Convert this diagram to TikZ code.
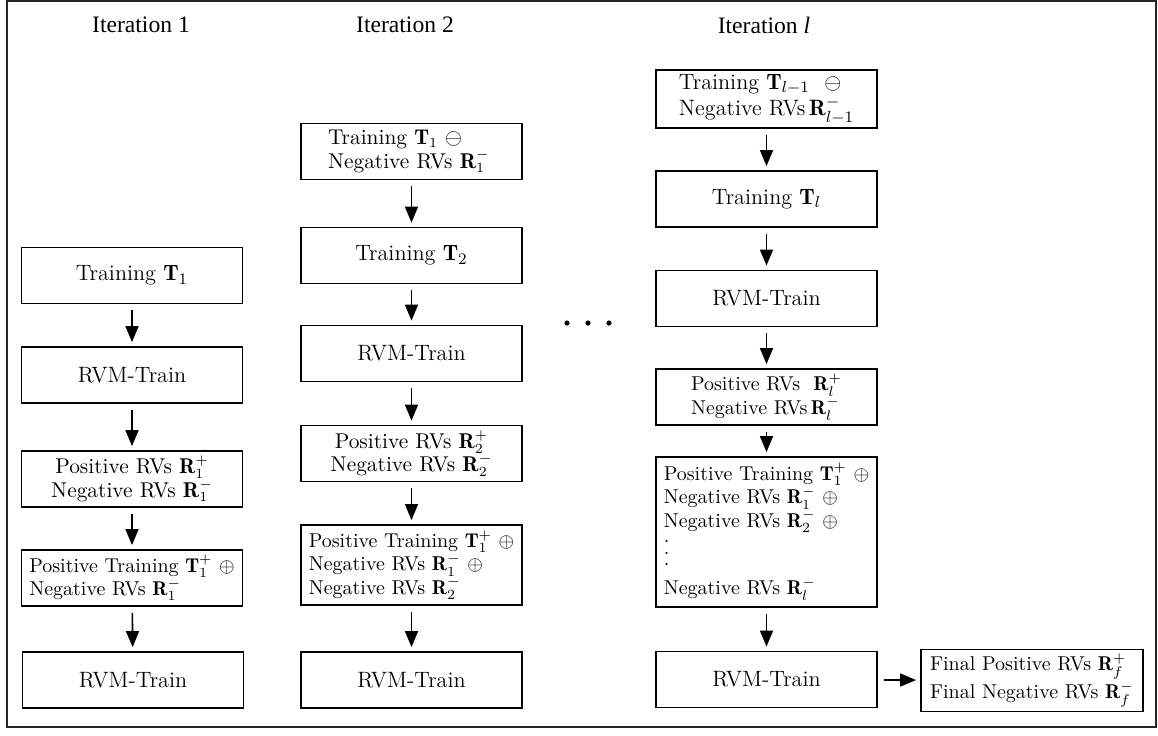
\documentclass[tikz,border=0pt]{standalone}
\usepackage{fontspec}
\newfontfamily\titlefont{Liberation Serif}
\usetikzlibrary{arrows.meta}
% a column of three dots with a wider pitch than \vdots
\newcommand\colvdots{\vbox{\baselineskip5.7pt\lineskiplimit0pt\hbox{.}\hbox{.}\hbox{.}}}
\begin{document}
\begin{tikzpicture}[x=0.5pt,y=-0.5pt,
  box/.style={draw=black, line width=0.9pt, minimum width=110.5pt,
    minimum height=28pt, inner sep=2pt},
  fA/.style={font=\fontsize{11.1}{11.7}\selectfont},
  fB/.style={font=\fontsize{10.7}{11.7}\selectfont},
  fC/.style={font=\fontsize{10}{11.7}\selectfont},
  midbox/.style={box, align=center},
  leftbox/.style={box, align=left},
  flow/.style={line width=0.8pt, -{Triangle[length=8pt,width=6.5pt]},
    shorten <=3pt, shorten >=2pt},
  heading/.style={font=\titlefont\fontsize{11.8}{14}\selectfont}]

\useasboundingbox (0,0) rectangle (1158,735);
\draw[line width=0.9pt, black!85] (7,1) rectangle (1156,727);

% column headings
\node[heading] (h1) at (141,25) {Iteration 1};
\node[heading] (h2) at (405,25) {Iteration 2};
\node[heading] (h3) at (764,25) {Iteration \textit{l}};

% iteration 1
\node[midbox, fA] (a1) at (132,275.5) {Training $\mathbf{T}_1$};
\node[midbox, fA] (a2) at (132,375) {RVM-Train};
\node[midbox, fB] (a3) at (132,479) {Positive RVs $\mathbf{R}_1^+$\\Negative RVs $\mathbf{R}_1^-$};
\node[leftbox, fC, inner xsep=0.5pt] (a4) at (132,578) {Positive Training $\mathbf{T}_1^+$ $\oplus$\\Negative RVs $\mathbf{R}_1^-$};
\node[midbox, fA] (a5) at (133,680) {RVM-Train};

% iteration 2
\node[leftbox, fB, inner xsep=13.5pt, text width=83.5pt] (b1) at (411.5,151.5) {Training $\mathbf{T}_1$ $\ominus$\\Negative RVs $\mathbf{R}_1^-$};
\node[midbox, fA] (b2) at (411.5,255.5) {Training $\mathbf{T}_2$};
\node[midbox, fA] (b3) at (411.5,353.5) {RVM-Train};
\node[midbox, fB] (b4) at (411.5,453.5) {Positive RVs $\mathbf{R}_2^+$\\Negative RVs $\mathbf{R}_2^-$};
\node[leftbox, fC, minimum height=40pt] (b5) at (411.5,565) {Positive Training $\mathbf{T}_1^+$ $\oplus$\\Negative RVs $\mathbf{R}_1^-$ $\oplus$\\Negative RVs $\mathbf{R}_2^-$};
\node[midbox, fA] (b6) at (411.5,680) {RVM-Train};

% gap between iteration 2 and iteration l
\fill (567,323) circle (2.6);
\fill (588,323) circle (2.6);
\fill (609,323) circle (2.6);

% iteration l
\node[leftbox, fA] (c1) at (766.5,99) {Training $\mathbf{T}_{l-1}$ \ $\ominus$\\Negative RVs\,$\mathbf{R}_{l-1}^-$};
\node[midbox, fA] (c2) at (766.5,199) {Training $\mathbf{T}_l$};
\node[midbox, fA] (c3) at (766.5,298.5) {RVM-Train};
\node[leftbox, fC] (c4) at (766.5,397) {Positive RVs \ $\mathbf{R}_l^+$\\Negative RVs\,$\mathbf{R}_l^-$};
\node[leftbox, fC, minimum height=75pt] (c5) at (766.5,532) {Positive Training $\mathbf{T}_1^+$ $\oplus$\\Negative RVs $\mathbf{R}_1^-$ $\oplus$\\Negative RVs $\mathbf{R}_2^-$ $\oplus$\\[3pt]\colvdots\\[3pt]Negative RVs $\mathbf{R}_l^-$};
\node[midbox, fA] (c6) at (766.5,679.5) {RVM-Train};

% final output
\node[leftbox, fC, minimum width=111pt, minimum height=27.5pt] (f) at (1032,680.5) {Final Positive RVs $\mathbf{R}_f^+$\\Final Negative RVs $\mathbf{R}_f^-$};

% connectors
\draw[flow] (a1) -- (a2);
\draw[flow] (a2) -- (a3);
\draw[flow] (a3) -- (a4);
\draw[flow] (a4) -- (a5);
\draw[flow] (b1) -- (b2);
\draw[flow] (b2) -- (b3);
\draw[flow] (b3) -- (b4);
\draw[flow] (b4) -- (b5);
\draw[flow] (b5) -- (b6);
\draw[flow] (c1) -- (c2);
\draw[flow] (c2) -- (c3);
\draw[flow] (c3) -- (c4);
\draw[flow] (c4) -- (c5);
\draw[flow] (c5) -- (c6);
\draw[flow] (c6) -- (f);
\end{tikzpicture}
\end{document}
